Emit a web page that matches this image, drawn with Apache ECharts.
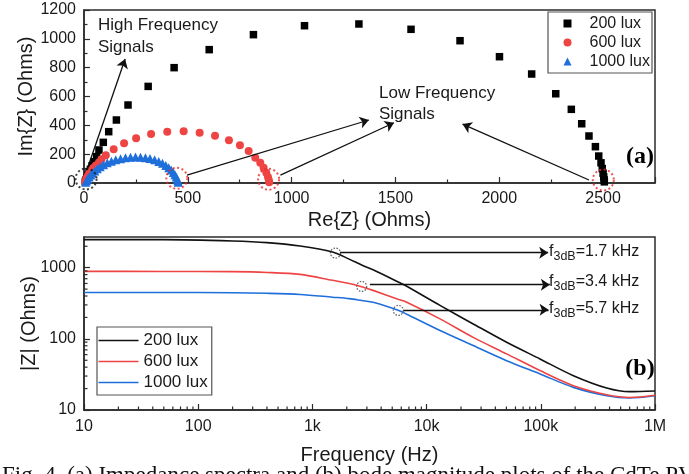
<!DOCTYPE html>
<html><head><meta charset="utf-8">
<script src="https://cdn.jsdelivr.net/npm/echarts@6/dist/echarts.min.js"></script>
<style>html,body{margin:0;padding:0;background:#fff}#c{width:689px;height:474px}</style>
</head><body><div id="c"></div><script>
// ---------- (a) Nyquist data (Re{Z}, Im{Z}) in Ohms ----------
const re200 = [6, 9, 13, 18, 24, 31, 39, 48, 61, 72, 93, 119, 156, 212, 309, 434, 603, 816, 1062, 1324, 1575, 1811, 2001, 2156, 2272, 2347, 2397, 2432, 2463, 2479, 2490, 2496, 2500, 2503, 2505, 2506];
const im200 = [8, 20, 35, 52, 72, 95, 120, 148, 183, 229, 282, 356, 437, 541, 670, 800, 925, 1029, 1091, 1103, 1066, 987, 876, 756, 619, 511, 411, 326, 252, 187, 140, 100, 68, 42, 22, 8];
const re600 = [5, 8, 11, 15, 20, 27, 35, 45, 57, 72, 84, 105, 143, 193, 251, 323, 401, 480, 557, 631, 698, 751, 793, 825, 849, 865, 878, 886, 890, 892];
const im600 = [6, 16, 28, 40, 54, 70, 86, 104, 122, 142, 164, 192, 234, 275, 310, 340, 356, 359, 349, 328, 297, 261, 222, 175, 141, 106, 71, 42, 20, 6];
const re1000 = [8, 12, 18, 25, 33, 42, 52, 64, 78, 94, 112, 132, 153, 176, 200, 224, 248, 272, 296, 318, 340, 360, 378, 394, 408, 420, 430, 438, 444, 449, 452, 454];
const im1000 = [5, 15, 28, 42, 56, 70, 84, 98, 112, 126, 140, 151, 161, 169, 175, 179, 180, 179, 176, 170, 161, 150, 137, 122, 106, 90, 73, 57, 42, 28, 15, 5];
const nyqNames = ['200 lux', '600 lux', '1000 lux'];
const nyqSymbols = ['rect', 'circle', 'triangle'];

// ---------- (b) Bode magnitude data ----------
const freq = [10, 50, 200, 400, 780, 1500, 2100, 2700, 3400, 5700, 6700, 13100, 25600, 50200, 98400, 193000, 378000, 600000, 1000000];
const mag200 = [2480, 2478, 2370, 2250, 2015, 1660, 1320, 1090, 935, 625, 548, 295, 162, 89.5, 52.2, 30.4, 20.4, 18.1, 18.5];
const mag600 = [887, 886, 880, 858, 805, 665, 600, 540, 480, 358, 327, 191, 105, 61.5, 35.8, 22, 16.4, 15.0, 16.1];
const mag1000 = [449, 449, 445, 437, 421, 385, 367, 346, 327, 251, 222, 131, 80.5, 49.4, 32.1, 20.8, 15.9, 14.8, 15.9];
const bodeKeys = ['b200', 'b600', 'b1000'];
const bodeNames = { b200: '200 lux', b600: '600 lux', b1000: '1000 lux' };

// f3dB markers (frequency, |Z|) and their labels
const f3dbFreq = [1592, 2700, 5650];
const f3dbMag = [1606, 545, 251];
const f3dbText = ['1.7 kHz', '3.4 kHz', '5.7 kHz'];

// tick labels
const freqTickLabels = { 1: '10', 2: '100', 3: '1k', 4: '10k', 5: '100k', 6: '1M' };
const magTickLabels = { 1: '10', 2: '100', 3: '1000' };

// annotation arrows in data units [x1, y1, x2, y2]
const nyqArrows = [[14, 90, 198, 860], [496, 55, 1372, 437], [946, 55, 1493, 418], [2432, 21, 1823, 409]];
const nyqCircles = [[10, 28, '#111'], [447, 33, '#e8272a'], [889, 26, '#e8272a'], [2501, 21, '#e8272a']];
const bodeArrows = [[1745, 1623, 116000, 1623], [3190, 576, 120000, 576], [6250, 256, 117000, 256]];

const FONT = 'Liberation Sans', SERIF = 'Liberation Serif';
const AXIS = '#2b2b2b', TXT = '#1a1a1a';
const BLACK = '#000000', RED = '#ef4444', BLUE = '#1f6fdb';

// minor ticks for log axes (2..9 per decade)
const minorF = [], minorZ = [];
for (let e = 1; e <= 5; e++) for (let m = 2; m <= 9; m++) minorF.push(m * Math.pow(10, e));
for (let e = 1; e <= 3; e++) for (let m = 2; m <= 9; m++) { const v = m * Math.pow(10, e); if (v < 2700) minorZ.push(v); }

const chart = echarts.init(document.getElementById('c'), null, { renderer: 'canvas' });

function pairs(a, b) { return a.map((v, i) => [v, b[i]]); }
const tickStyle = { color: AXIS, width: 1.2 };
function minorTickSeries(xi, yi, data, dir) {
  return {
    type: 'custom', xAxisIndex: xi, yAxisIndex: yi, silent: true, z: 5, clip: false,
    data: data,
    renderItem: function (params, api) {
      const p = api.coord([api.value(0), api.value(1)]);
      const shape = dir === 'x' ? { x1: p[0], y1: p[1], x2: p[0], y2: p[1] - 3.5 } : { x1: p[0], y1: p[1], x2: p[0] + 3.5, y2: p[1] };
      return { type: 'line', shape: shape, style: { stroke: AXIS, lineWidth: 1.2 } };
    }
  };
}

const arrowMarkLine = (arr) => ({
  silent: true, symbol: ['none', 'arrow'], symbolSize: 9, label: { show: false },
  lineStyle: { color: '#111', width: 1.3, type: 'solid' }, emphasis: { disabled: true },
  data: arr.map(a => [{ coord: [a[0], a[1]] }, { coord: [a[2], a[3]] }])
});

function f3dbRich(t) { return '{f|f}{s|3dB}{m|=' + t + '}'; }
const richStyle = {
  f: { fontSize: 16, fontFamily: FONT, fill: TXT, color: TXT, lineHeight: 16 },
  m: { fontSize: 16, fontFamily: FONT, fill: TXT, color: TXT, lineHeight: 16 },
  s: { fontSize: 12.5, fontFamily: FONT, fill: TXT, color: TXT, lineHeight: 12, padding: [9, 0, 0, 0] }
};
const f3dbY = [252, 282, 309];

const graphics = [
  { type: 'text', x: 98, y: 25, style: { text: 'High Frequency', font: '17px "Liberation Sans"', fill: TXT, align: 'left', verticalAlign: 'middle' } },
  { type: 'text', x: 98, y: 47, style: { text: 'Signals', font: '17px "Liberation Sans"', fill: TXT, align: 'left', verticalAlign: 'middle' } },
  { type: 'text', x: 379, y: 93, style: { text: 'Low Frequency', font: '17px "Liberation Sans"', fill: TXT, align: 'left', verticalAlign: 'middle' } },
  { type: 'text', x: 379, y: 114, style: { text: 'Signals', font: '17px "Liberation Sans"', fill: TXT, align: 'left', verticalAlign: 'middle' } },
  { type: 'text', x: 640, y: 157, style: { text: '(a)', font: 'bold 24px "Liberation Serif"', fill: '#000', align: 'center', verticalAlign: 'middle' } },
  { type: 'text', x: 640, y: 369, style: { text: '(b)', font: 'bold 24px "Liberation Serif"', fill: '#000', align: 'center', verticalAlign: 'middle' } },
  { type: 'text', x: 2, y: 464, style: { text: 'Fig. 4. (a) Impedance spectra and (b) bode magnitude plots of the CdTe PV', font: '23px "Liberation Serif"', fill: '#111', align: 'left', verticalAlign: 'top' } }
];
f3dbText.forEach((t, i) => graphics.push({
  type: 'text', x: 549, y: f3dbY[i],
  style: { text: f3dbRich(t), rich: richStyle, fill: TXT, align: 'left', verticalAlign: 'middle', font: '16px "Liberation Sans"' }
}));

const option = {
  animation: false,
  backgroundColor: '#ffffff',
  textStyle: { fontFamily: FONT },
  grid: [
    { left: 84, top: 10, width: 571, height: 173, show: true, borderColor: AXIS, borderWidth: 1.5, backgroundColor: 'transparent', containLabel: false },
    { left: 84, top: 237, width: 571, height: 173, show: true, borderColor: AXIS, borderWidth: 1.5, backgroundColor: 'transparent', containLabel: false }
  ],
  xAxis: [
    {
      gridIndex: 0, type: 'value', min: 0, max: 2750, interval: 500,
      name: 'Re{Z} (Ohms)', nameLocation: 'middle', nameGap: 27, nameMoveOverlap: false,
      nameTextStyle: { fontSize: 20, color: TXT, fontFamily: FONT },
      axisLine: { show: true, onZero: false, lineStyle: { color: AXIS, width: 1.5 } },
      axisTick: { show: true, inside: true, length: 6, lineStyle: tickStyle },
      minorTick: { show: true, splitNumber: 2, length: 3.5, lineStyle: tickStyle },
      axisLabel: { fontSize: 16, color: TXT, margin: 8, showMaxLabel: false, fontFamily: FONT, formatter: v => String(v) },
      splitLine: { show: false }, minorSplitLine: { show: false }
    },
    {
      gridIndex: 1, type: 'log', logBase: 10, min: 10, max: 1000000,
      name: 'Frequency (Hz)', nameLocation: 'middle', nameGap: 35, nameMoveOverlap: false,
      nameTextStyle: { fontSize: 20, color: TXT, fontFamily: FONT },
      axisLine: { show: true, onZero: false, lineStyle: { color: AXIS, width: 1.5 } },
      axisTick: { show: true, inside: true, length: 6, lineStyle: tickStyle },
      minorTick: { show: false },
      axisLabel: { fontSize: 16, color: TXT, margin: 9, fontFamily: FONT,
        formatter: v => freqTickLabels[Math.round(Math.log10(v))] || '' },
      splitLine: { show: false }
    }
  ],
  yAxis: [
    {
      gridIndex: 0, type: 'value', min: 0, max: 1200, interval: 200,
      name: 'Im{Z} (Ohms)', nameLocation: 'middle', nameGap: 48, nameMoveOverlap: false,
      nameTextStyle: { fontSize: 20, color: TXT, fontFamily: FONT },
      axisLine: { show: true, onZero: false, lineStyle: { color: AXIS, width: 1.5 } },
      axisTick: { show: true, inside: true, length: 6, lineStyle: tickStyle },
      minorTick: { show: true, splitNumber: 2, length: 3.5, lineStyle: tickStyle },
      axisLabel: { fontSize: 16, color: TXT, margin: 8, fontFamily: FONT, formatter: v => String(v) },
      splitLine: { show: false }, minorSplitLine: { show: false }
    },
    {
      gridIndex: 1, type: 'log', logBase: 10, min: 10, max: 2700, splitNumber: 2,
      name: '|Z| (Ohms)', nameLocation: 'middle', nameGap: 45, nameMoveOverlap: false,
      nameTextStyle: { fontSize: 20, color: TXT, fontFamily: FONT },
      axisLine: { show: true, onZero: false, lineStyle: { color: AXIS, width: 1.5 } },
      axisTick: { show: true, inside: true, length: 6, lineStyle: tickStyle },
      minorTick: { show: false },
      axisLabel: { fontSize: 16, color: TXT, margin: 8, fontFamily: FONT, showMaxLabel: false,
        formatter: v => { const e = Math.log10(v); return Math.abs(e - Math.round(e)) < 1e-6 ? (magTickLabels[Math.round(e)] || '') : ''; } },
      splitLine: { show: false }
    }
  ],
  legend: [
    {
      data: nyqNames.map((n, i) => ({ name: n, icon: nyqSymbols[i] })), orient: 'vertical', left: 548, top: 12,
      padding: [2, 2, 2, 15.5], itemWidth: 8, itemHeight: 8, itemGap: 0,
      borderColor: '#555', borderWidth: 1.2, borderRadius: 0, backgroundColor: '#fff',
      textStyle: { fontSize: 16, color: TXT, fontFamily: FONT, lineHeight: 19, padding: [0, 0, 0, 13] }, selectedMode: false
    },
    {
      data: bodeKeys.map(k => ({ name: k, icon: 'rect' })), formatter: n => bodeNames[n], orient: 'vertical', left: 97, top: 327,
      padding: [3, 4, 2, 1.5], itemWidth: 40, itemHeight: 1.6, itemGap: 0,
      borderColor: '#555', borderWidth: 1.2, borderRadius: 0, backgroundColor: '#fff',
      textStyle: { fontSize: 17, color: TXT, fontFamily: FONT, lineHeight: 21 }, selectedMode: false
    }
  ],
  series: [
    { name: '200 lux', type: 'scatter', xAxisIndex: 0, yAxisIndex: 0, symbol: 'rect', symbolSize: 7.5, itemStyle: { color: BLACK, opacity: 1 }, data: pairs(re200, im200), z: 2 },
    { name: '600 lux', type: 'scatter', xAxisIndex: 0, yAxisIndex: 0, symbol: 'circle', symbolSize: 8, itemStyle: { color: RED, opacity: 1 }, data: pairs(re600, im600), z: 3 },
    { name: '1000 lux', type: 'scatter', xAxisIndex: 0, yAxisIndex: 0, symbol: 'triangle', symbolSize: 9, itemStyle: { color: BLUE, opacity: 1 }, data: pairs(re1000, im1000), z: 4 },
    {
      name: 'nyqAnno', type: 'scatter', xAxisIndex: 0, yAxisIndex: 0, symbol: 'circle', symbolSize: 21, silent: true, z: 6,
      data: nyqCircles.map(c => ({ value: [c[0], c[1]], itemStyle: { color: 'rgba(0,0,0,0)', borderColor: c[2], borderWidth: 2, borderType: [2, 2.5] } })),
      markLine: arrowMarkLine(nyqArrows)
    },
    { name: 'b200', type: 'line', xAxisIndex: 1, yAxisIndex: 1, symbol: 'none', smooth: 0.3, lineStyle: { color: '#111', width: 1.6 }, itemStyle: { color: '#111' }, data: pairs(freq, mag200), z: 4 },
    { name: 'b600', type: 'line', xAxisIndex: 1, yAxisIndex: 1, symbol: 'none', smooth: 0.3, lineStyle: { color: RED, width: 1.6 }, itemStyle: { color: RED }, data: pairs(freq, mag600), z: 3 },
    { name: 'b1000', type: 'line', xAxisIndex: 1, yAxisIndex: 1, symbol: 'none', smooth: 0.3, lineStyle: { color: BLUE, width: 1.6 }, itemStyle: { color: BLUE }, data: pairs(freq, mag1000), z: 2 },
    {
      name: 'bodeAnno', type: 'scatter', xAxisIndex: 1, yAxisIndex: 1, symbol: 'circle', symbolSize: 10, silent: true, z: 6,
      data: f3dbFreq.map((f, i) => ({ value: [f, f3dbMag[i]], itemStyle: { color: 'rgba(0,0,0,0)', borderColor: '#333', borderWidth: 1.2, borderType: [1.5, 1.5] } })),
      markLine: arrowMarkLine(bodeArrows)
    },
    minorTickSeries(1, 1, minorF.map(v => [v, 10]), 'x'),
    minorTickSeries(1, 1, minorZ.map(v => [10, v]), 'y')
  ],
  graphic: graphics
};
chart.setOption(option);
</script></body></html>
